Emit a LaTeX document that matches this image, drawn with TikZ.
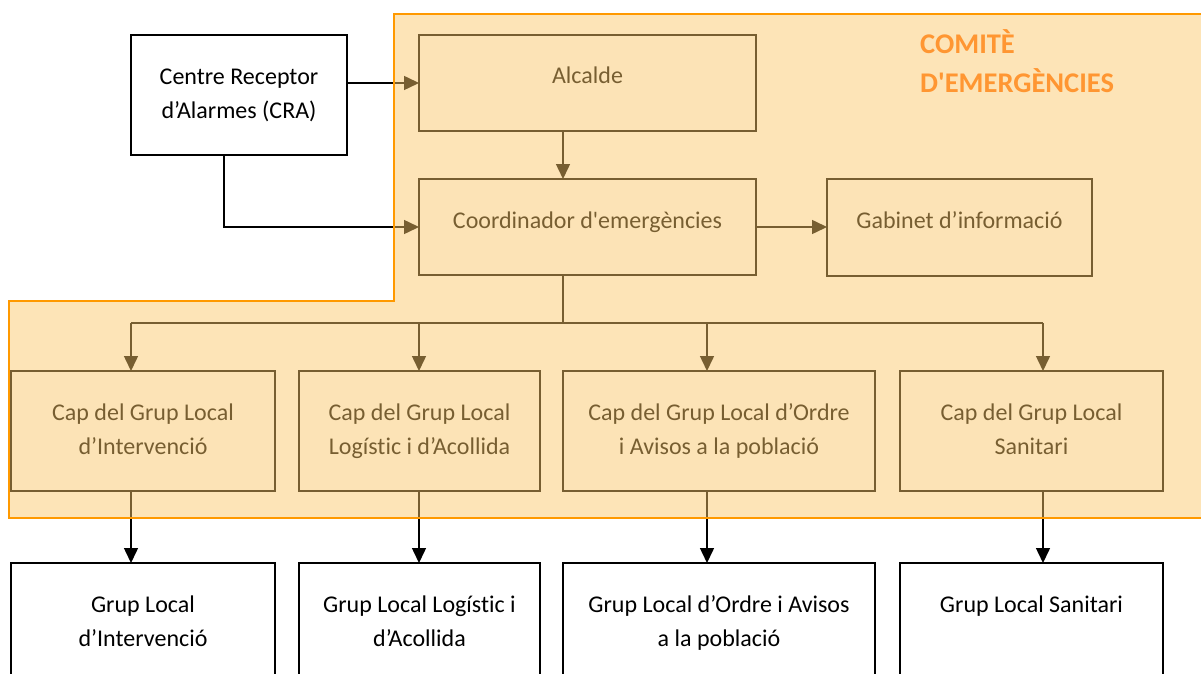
\documentclass[tikz,border=0pt]{standalone}
\usepackage{fontspec}
\setmainfont{Carlito}[Ligatures={TeXOff,NoCommon}]
\usetikzlibrary{arrows.meta}
\definecolor{ovl}{RGB}{250,198,104}
\definecolor{ovlborder}{RGB}{255,153,0}
\definecolor{titlec}{RGB}{255,150,50}
\begin{document}
\begin{tikzpicture}[x=1pt,y=-1pt,
  box/.style={draw=black, line width=1.8pt, fill=white, rectangle, inner sep=0pt, outer sep=0pt},
  txt/.style={anchor=north, align=center, inner sep=0pt, font=\fontsize{24}{34}\selectfont, yshift=-25pt},
  conn/.style={line width=1.5pt, draw=black},
  arr/.style={conn, -{Triangle[length=15pt,width=14pt]}},
]
\useasboundingbox (0,0) rectangle (1201,674);
\clip (0,0) rectangle (1201,674);

% boxes
\node[box, minimum width=216pt, minimum height=120pt] (cra) at (239,95) {};
\node[box, minimum width=337pt, minimum height=96pt] (alc) at (587.5,83) {};
\node[box, minimum width=337pt, minimum height=96pt] (coord) at (587.5,227) {};
\node[box, minimum width=265pt, minimum height=97pt] (gab) at (959.5,227.5) {};
\node[box, minimum width=264pt, minimum height=120pt] (cap1) at (143,431) {};
\node[box, minimum width=241pt, minimum height=120pt] (cap2) at (419.5,431) {};
\node[box, minimum width=312pt, minimum height=120pt] (cap3) at (719,431) {};
\node[box, minimum width=263pt, minimum height=120pt] (cap4) at (1031.5,431) {};
\node[box, minimum width=264pt, minimum height=140pt] (grp1) at (143,633) {};
\node[box, minimum width=241pt, minimum height=140pt] (grp2) at (419.5,633) {};
\node[box, minimum width=312pt, minimum height=140pt] (grp3) at (719,633) {};
\node[box, minimum width=263pt, minimum height=140pt] (grp4) at (1031.5,633) {};

% texts
\node[txt] (tcra) at (cra.north) {\strut Centre Receptor\\d’Alarmes (CRA)};
\node[txt] (talc) at (alc.north) {\strut Alcalde};
\node[txt] (tcoord) at (coord.north) {\strut Coordinador d'emergències};
\node[txt] (tgab) at (gab.north) {\strut Gabinet d’informació};
\node[txt] (tcap1) at (cap1.north) {\strut Cap del Grup Local\\d’Intervenció};
\node[txt] (tcap2) at (cap2.north) {\strut Cap del Grup Local\\Logístic i d’Acollida};
\node[txt] (tcap3) at (cap3.north) {\strut Cap del Grup Local d’Ordre\\i Avisos a la població};
\node[txt] (tcap4) at (cap4.north) {\strut Cap del Grup Local\\Sanitari};
\node[txt] (tgrp1) at (grp1.north) {\strut Grup Local\\d’Intervenció};
\node[txt] (tgrp2) at (grp2.north) {\strut Grup Local Logístic i\\d’Acollida};
\node[txt] (tgrp3) at (grp3.north) {\strut Grup Local d’Ordre i Avisos\\a la població};
\node[txt] (tgrp4) at (grp4.north) {\strut Grup Local Sanitari};

% connectors
\draw[arr] (cra.east |- alc.west) -- (alc.west);
\draw[arr] ([xshift=-15pt]cra.south) |- (coord.west);
\draw[arr] ([xshift=-24.5pt]alc.south) -- ([xshift=-24.5pt]coord.north);
\draw[arr] (coord.east) -- (coord.east -| gab.west);
\coordinate (b1) at (131,323);
\coordinate (b2) at (419,323);
\coordinate (b3) at (707,323);
\coordinate (b4) at (1043,323);
\draw[conn] ([xshift=-24.5pt]coord.south) -- ([xshift=-24.5pt]coord.south |- b1);
\draw[conn] (b1) -- (b4);
\draw[arr] (b1) -- (b1 |- cap1.north);
\draw[arr] (b2) -- (b2 |- cap2.north);
\draw[arr] (b3) -- (b3 |- cap3.north);
\draw[arr] (b4) -- (b4 |- cap4.north);
\draw[arr] (b1 |- cap1.south) -- (b1 |- grp1.north);
\draw[arr] (b2 |- cap2.south) -- (b2 |- grp2.north);
\draw[arr] (b3 |- cap3.south) -- (b3 |- grp3.north);
\draw[arr] (b4 |- cap4.south) -- (b4 |- grp4.north);

% committee overlay
\path[fill=ovl, fill opacity=0.48] (394,14) -- (1215,14) -- (1215,518) -- (9,518) -- (9,301) -- (394,301) -- cycle;
\draw[ovlborder, line width=1.5pt] (394,14) -- (1215,14) -- (1215,518) -- (9,518) -- (9,301) -- (394,301) -- cycle;

\node[anchor=north west, align=left, inner sep=0pt, text=titlec, font=\fontsize{28.5}{39}\selectfont\bfseries] (title) at (920,25.7) {\strut COMITÈ\\D'EMERGÈNCIES};
\end{tikzpicture}
\end{document}
